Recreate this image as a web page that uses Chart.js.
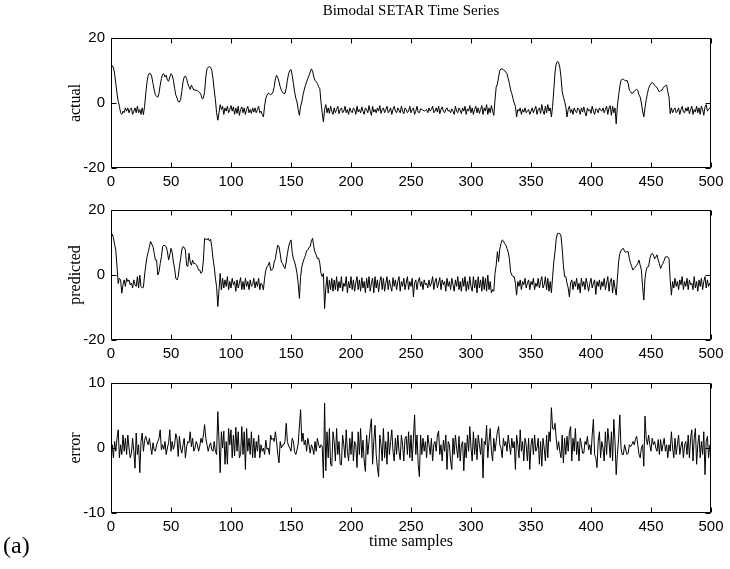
<!DOCTYPE html>
<html>
<head>
<meta charset="utf-8">
<script src="https://cdn.jsdelivr.net/npm/chart.js@4.4.1/dist/chart.umd.min.js"></script>
<style>
  html, body { margin: 0; padding: 0; background: #fff; }
  #wrap { position: relative; width: 730px; height: 569px; overflow: hidden; }
  canvas { position: absolute; left: 0; }
  .txt { position: absolute; font-family: "Liberation Serif", "Times New Roman", serif; color: #000; white-space: nowrap; }
  .ylab { transform: translate(-50%, -50%) rotate(-90deg); font-size: 16px; }
</style>
</head>
<body>
<div id="wrap">
  <canvas id="c1" width="730" height="193" style="top:0px"></canvas>
  <canvas id="c2" width="730" height="193" style="top:172px"></canvas>
  <canvas id="c3" width="730" height="193" style="top:345px"></canvas>
  <div class="txt" style="left:411px; top:10px; transform:translate(-50%,-50%); font-size:15px;">Bimodal SETAR Time Series</div>
  <div class="txt ylab" style="left:75px; top:103px;">actual</div>
  <div class="txt ylab" style="left:75px; top:275px;">predicted</div>
  <div class="txt ylab" style="left:75px; top:448px;">error</div>
  <div class="txt" style="left:411px; top:541px; transform:translate(-50%,-50%); font-size:16px;">time samples</div>
  <div class="txt" style="left:3px; top:545px; transform:translate(0,-50%); font-size:24px;">(a)</div>
</div>
<script>
// ---- data ----
const xTicks = [0, 50, 100, 150, 200, 250, 300, 350, 400, 450, 500];
const yTicksSeries = [-20, 0, 20];
const yTicksError = [-10, 0, 10];

const actual = [
  10, 11.5, 11, 9, 6, 3, 0.5, -1, -3, -3.5,
  -2.5, -3, -1.5, -2.5, -1.5, -3, -2, -1.5, -3.5, -2.5,
  -1.5, -3, -1, -3, -2, -3.5, -1.5, -3.6, -1, 3,
  6.5, 8.5, 9.2, 9, 8, 6, 4, 2.5, 2, 1.8,
  3, 5.5, 7.5, 8.8, 9, 8, 8.5, 7, 6.7, 8,
  9, 8.5, 7, 4.5, 2.5, 1.5, 0.5, 0.3, 1, 3.5,
  6.5, 8, 8.3, 7.5, 6, 5, 4.2, 5.5, 4.8, 4,
  4, 3.9, 3.8, 3.5, 3.2, 2.5, 1.3, 1.5, 3.5, 8,
  10.5, 11, 11.2, 11, 10, 7.5, 4, 1, -3, -5.3,
  -3, -0.5, -2, -1, -3.5, -1.5, -2.5, -1, -3, -2,
  -0.8, -2.5, -1.2, -3.5, -1.5, -3.2, -1, -3.8, -2, -1.2,
  -3, -1.5, -3.5, -2, -1, -3, -2, -3.2, -1.5, -2.8,
  -1.5, -3, -2, -1, -3, -2.5, -3.5, -4.3, -1, 1.5,
  2.4, 3, 2.9, 2.5, 2.8, 3.4, 5, 7.5, 8.5, 7.8,
  6.5, 5, 3.9, 3.2, 3, 2.9, 4.5, 7, 9, 10,
  10.3, 8.5, 6, 3.4, 1.5, 0.3, -2, -3.8, -1, 0.3,
  2.5, 4, 5.4, 6.5, 7.5, 8.5, 9.5, 10.5, 9.8, 8,
  7, 6.5, 6, 5, 4.4, 0.3, -3, -5.8, -2, -0.5,
  -3, -1.5, -3.2, -1, -2.5, -3.5, -1.5, -3, -2, -1,
  -3.3, -2, -1.5, -3, -2.5, -1, -3, -2, -3.5, -1.5,
  -2.5, -3, -1.5, -2, -3.5, -1, -2.8, -2, -3, -1.2,
  -2.5, -3.5, -1.5, -2, -3, -0.8, -2.5, -3.8, -1, -2.8,
  -2, -3, -1.5, -2.5, -0.8, -3.2, -2, -1.5, -3, -2,
  -1, -3, -2.5, -1.5, -3.5, -2, -1, -2.5, -3, -1.5,
  -2.2, -3, -1, -2.5, -3.3, -1.5, -2, -3, -2.5, -1,
  -3, -2, -1.5, -3.5, -2.5, -1, -2.8, -3, -1.8, -2,
  -2.2, -2.5, -2.3, -2, -3, -1.5, -2.5, -2, -1, -3,
  -2.5, -1.5, -2.8, -1, -3.3, -2, -1.2, -2.5, -3, -2,
  -1.5, -2.5, -2.2, -3, -1.8, -2.5, -3.5, -1, -2.5, -3,
  -1.5, -2.2, -3.3, -1.5, -2.5, -1, -3.5, -1.8, -2.5, -0.8,
  -3, -1.5, -3.5, -2, -1, -3, -1.5, -3.2, -2, -0.8,
  -3.5, -1.5, -2.5, -0.5, -3.5, -1.5, -3, -0.8, -2.5, -3.8,
  1, 4.9, 5.8, 8, 10, 10.5, 10.5, 10.2, 10, 9.5,
  9, 7.5, 6, 4, 2.9, 1.3, 0, -1, -4.3, -2,
  -2.5, -1.5, -3.5, -2, -2.8, -1.5, -3, -2.5, -2, -3.5,
  -2.5, -1.5, -3, -2, -1, -3.5, -2, -1.5, -3.2, -0.5,
  -2.5, -3.5, -1, -3, -0.5, -2.5, -1.5, -4.3, -1, 4,
  9.5, 12, 12.8, 12.5, 11, 8, 3.4, 1.8, 0.5, -1.2,
  -4.3, -2, -1, -3, -2, -3.5, -1.5, -2.5, -3, -1.5,
  -2, -3.5, -1.5, -2.8, -1.2, -3, -4, -1.5, -2.5, -2,
  -3.2, -1, -2.5, -3.5, -1.8, -2, -3, -1.5, -2.2, -2.5,
  -1.5, -3, -2, -1, -3.5, -1.5, -0.8, -3.8, -1, -3,
  -1.5, -6.4, -1, 2.4, 5, 7, 7.3, 7.3, 7, 6.8,
  7, 6, 3.9, 3.5, 2.9, 3.2, 3.5, 4, 4.2, 3.9,
  2.5, 1.8, 0, -2.5, -4.3, -1.5, 1, 2.9, 4.5, 5.4,
  6, 6.3, 6, 5.4, 5, 4.8, 4, 3.4, 3.8, 3.9,
  4.5, 5, 5.4, 5.5, 3.5, 1.8, -3.3, -1.5, -3, -2,
  -1.5, -3, -2.5, -1.5, -3.5, -2, -1, -2.8, -3, -1.5,
  -2.5, -1.2, -3.3, -2, -1, -3.5, -2, -2.8, -1, -3,
  -1.5, -3.5, -1, -2, -3.8, -1.2, -0.5, -2.5, -2, -1.5
];

const predicted = [
  11, 12.6, 11.5, 9.5, 7.5, 2.6, -2.6, -1, -1.5, -5.6,
  -3, -1.5, -3.5, -1, -2, -1.5, -3, -2.5, -4, -1.5,
  -3, -3.5, -0.5, -4, 0, -3.5, -4, -3.8, 0, 3,
  5.6, 7, 8.7, 10.3, 9.5, 8.7, 6.7, 4.6, 4.6, 0,
  1, 3.5, 5.6, 8.7, 9.2, 9, 8.7, 7.2, 4.6, 6.2,
  8.2, 7, 4, 2, -1, -1.5, -0.5, 2.5, 5, 7.7,
  8.7, 8.5, 7.7, 3, 2.6, 6.7, 4, 3, 4.6, 3.5,
  3.6, 3.2, 2.6, 1.5, 1.5, 0.5, 1, 4.6, 11.3, 11,
  10.8, 11.3, 10.5, 11, 8.7, 5, 2.6, -1, -3.6, -9.7,
  -4.6, 0.5, -4.6, -1, -4, -1.5, -3.5, -0.5, -4.5, -2,
  -4, -1, -3, -2, -5, -1.5, -4, -2.5, -0.8, -4.5,
  -2, -4.5, -1, -3.5, -2, -4.5, -1.5, -3.5, -3, -1,
  -4, -2, -3.5, -1, -4.5, -2.5, -3, -4.6, -1, 1.5,
  2.5, 3, 4, 1.5, 1.5, 2, 4, 5, 7.5, 9.2,
  8.7, 6.5, 4, 3.5, 2.6, 2, 4, 6.5, 8.7, 10,
  10.8, 7, 5, 4, 2.5, 0.5, -2.6, -7.2, -0.5, 2.5,
  4, 5, 6, 7.5, 7.7, 8.5, 8.7, 10.5, 11.3, 8.7,
  7, 6.2, 5, 5.2, 3.6, 0.5, -0.5, 0.5, -10.3, -4,
  -0.5, -5.6, -1.5, -4.5, -1, -5, -1.5, -4.5, -0.5, -5,
  -2, -4, -0.5, -5, -2.5, -3.5, -0.5, -5.5, -2, -4,
  -0.5, -4.5, -1.5, -5, -2.5, -0.5, -4.5, -1.5, -5, -0.8,
  -4, -2, -5.5, -1, -4, -0.5, -5, -2.5, -1, -5.5,
  -0.5, -4, -1.5, -5.2, -2, -0.5, -4.5, -1, -5, -2.5,
  -0.5, -4.5, -1.5, -3.5, -5, -0.8, -3.5, -1.5, -4.5, -2,
  -0.5, -5, -2, -3.5, -1, -4.5, -2.5, -0.5, -4.5, -2,
  -3.5, -1, -6.7, -2.5, -1.5, -4.5, -2, -0.8, -3.5, -2,
  -4.5, -1.5, -3, -2.5, -4, -1.5, -3.5, -2.5, -0.5, -4.5,
  -2, -1, -4, -2.5, -0.8, -4.5, -1.5, -3, -2, -5,
  -1, -3.5, -2, -4.5, -1, -3, -5, -1.5, -3.5, -0.5,
  -4.5, -2, -5, -1, -3.5, -0.5, -5, -2, -4.5, -0.5,
  -3.5, -5, -0.5, -4, -1.5, -5.5, -0.5, -4, -1.5, -5,
  -0.5, -4.5, -1, -5, 0, -4.5, -2, -5.5, -4.5, -5,
  0.5, 3, 7.2, 4.1, 8, 9.7, 10.8, 10.5, 9.7, 9.2,
  8.2, 7, 5, 1, 0, -0.5, -0.5, -2.5, -6.2, -2,
  -3.5, -1.5, -4.5, -2, -3, -1, -4, -2.5, -1.5, -4.5,
  -2, -3, -1, -4.5, -2.5, -3.5, -1, -4, -2, -0.5,
  -4, -3, -0.5, -4.5, -1, -5, -2, -5.5, -0.5, 4,
  7.2, 11, 12.8, 12.8, 12.8, 12, 8, 3, -0.5, -0.5,
  -2.5, -4, -6.7, -2.5, -1.5, -4.5, -2, -3.5, -1, -4.5,
  -2.5, -5.5, -1, -3.5, -2, -4.5, -1, -3, -5, -2.5,
  -1, -4, -2.5, -1.5, -6, -2, -3.5, -1.5, -4.5, -2,
  -3.5, -1, -4.5, -2.5, -0.5, -5, -2, -1, -5.5, -1.5,
  -4, -6.2, -1, 4.1, 6.5, 7.5, 8, 8.2, 7.2, 7,
  7.2, 7.2, 5, 3.6, 2.5, 1.5, 2, 2.5, 3, 3.6,
  4.6, 3, 1.5, -3.6, -7.7, -1, 1.5, 2.5, 2.6, 5,
  6.2, 6.7, 6.2, 5, 5.5, 6.2, 4.6, 3.5, 2, 3,
  3.6, 4.5, 5.6, 5.6, 5.6, 5, -1.5, -6.2, -2, -4,
  -1, -3.5, -2, -4.5, -1.5, -3, -0.5, -4.5, -2, -3.5,
  -1, -4.5, -1.5, -3, -2.5, -4.5, -0.5, -4, -2, -5,
  -1.5, -3.5, -1, -4.5, -2, -0.5, -4, -1.5, -3.5, -2.5
];

const error = [
  -1, 0.5, -1.5, 1, -0.5, 1.5, 2.8, -1.5, 0.5, -1,
  2, -0.5, 1.5, -1, 2, 0, -1.5, -0.8, 1.5, -0.5,
  -3.1, 2.3, -1, 0.5, -3.8, 1, 2.3, -0.5, 1.2, 1.8,
  1, 0.5, 1.5, 0.2, -1, 0.8, -0.3, -0.5, 0.5, 1,
  1.5, 2.8, -0.3, 0.5, -0.2, 1, -1, 0, 0.8, 2.8,
  -0.5, 1, -0.2, 0.5, 2.2, 1.5, -1.3, 1.8, 0, -0.8,
  0.5, 1.5, -1.5, 0.2, 1, 0.8, 2.5, 0.2, 1.5, -0.5,
  0, 1, 0.5, -0.5, 0.3, 1.5, 0.8, 2, 3.6, 1.5,
  0.5, -0.5, 0.3, 0.8, -0.3, -0.5, 1, -0.5, -1, 5.6,
  1.2, -3.8, 2.5, 0, 2.6, -2.5, 1, -2.5, 3, 0.5,
  2.8, -1.5, 2, -1.2, 3.2, -0.5, 2.5, -1.5, -1, 3.3,
  -1, 2.5, -3.3, 3, -0.5, 1.5, -1, 2.5, -1.5, 1.5,
  -1.5, 1, -0.5, 2, -1.5, 0.5, -0.5, 0, -1, 1.2,
  -0.2, 0, -1, 2, 1.3, 1.5, 1, 2.5, 1, -1,
  -2.3, 1, 0, 0.5, 0.5, 1, 3.8, 1, 0.3, 0,
  -0.5, 1.5, 1, -0.6, -1, -0.3, 0.6, 3.4, 5.9, 1,
  2.3, 0.5, 1.2, -0.5, 1.5, 0.5, -0.8, 0.5, 0, -1,
  1, -0.5, 1.5, 0.5, 0, 0.5, 0.3, -4.6, 6.9, -3.5,
  2.5, -1.5, 3, -2.5, -2.8, 2.5, 1, -2, 3, -1,
  1, -2.5, -2.6, 2, 0.5, -1.5, 2.8, -0.5, -2, 1.5,
  -1, 2.5, -2, 1, 0.5, -3, 2.5, -1, 3, -1.5,
  1.2, -2, -3.6, 2, -1, 1, 3, 4.5, -2.5, 1,
  3.5, -1, -3, -4.4, 2, 0.5, -2, 3, -1.5, 1,
  -2.5, 2.5, -1, 1, 2.8, -0.5, -2, 1.5, -1, 2,
  -0.5, -1.8, 2, 0.5, -2, 1.5, 1.8, -1, 2.5, -1.5,
  2, -2, 1.5, 5.1, -1, 2, -2.5, -4.4, 2, -1,
  1.5, -0.5, 1, -1.5, 2, 0.5, -1, 1.5, -2, 0.5,
  1, -0.5, 2, 2.6, -1, 0.5, -2, 1.2, -0.5, 2,
  -3.3, 1, 0.5, -2, -3.3, 1.5, -1, 2, 0, -1.5,
  1.8, -2, 0.5, 1, -3.5, 0.8, -1.5, 2, -0.5, 3.3,
  0, -2, 2.5, -1, 1.5, -1.8, 2, 0.5, -1, 1.5,
  -4.6, 1, 0.5, 3.5, -1.5, 1, 3, -0.5, -2, 1.5,
  -0.5, 1, 2.5, 3.3, 0.5, 0, -1.5, 1.5, 0.3, 1,
  -0.5, 2, 0.5, -1, 1.5, 0, 1, -3.3, 2, 0.5,
  -1.5, 2.8, -0.5, 1, -2, 1.5, 0.5, -2, 1.5, -3.3,
  0.5, 1.5, -1, 2, -0.5, 0, 1.5, -2.5, 1, -2.8,
  1.5, 0, -2, 2, -1.5, 2.5, 1, 6.2, 3, 2.8,
  3.8, 1.5, -0.3, 1, -0.5, -1.5, 2, -2.3, 1.5, -1,
  1.8, -0.5, 2.5, 3.3, -2, 1.5, -0.5, 3, -1, 1,
  -2, 1.5, 0.5, -0.8, -0.8, 1, 0.5, 1.8, -0.3, 0.5,
  -1, 2, 4.4, -1, -1.5, -3, 1, 2.5, -1.5, 1,
  0, -2, 2.5, -1, 3, 1, -1.5, 2.5, -2, 4.4,
  1, -4.1, -1, 1.5, 5.1, 0, -1, -1, 0.5, -0.3,
  -1, -0.8, 0.5, 0.2, 0.5, 1, 0.5, 1.3, 1.8, 0.5,
  -1, -1.5, 0, 0.5, -2.8, 4.9, 1.5, 0.5, 2, 0.5,
  -0.5, 1.5, 0.5, 1, 0, -0.5, 1.3, -1, 1.3, -0.5,
  0.5, 1.5, -0.5, 0.5, -1.5, 0.5, -0.5, 2.5, 0, -1.5,
  1.5, -1, 0.5, 2, -1, 0.3, 1, -1.5, 0.5, 1,
  -1, 2, -1.5, 1.5, 2.8, -2, 1.5, 3, -2.5, 0.5,
  2, -1.5, 1, -1, 2.5, -4.1, 1, 1.8, -1.5, 0.5
];

// ---- drawing ----
const FONT = { family: '"Liberation Sans", Arial, Helvetica, sans-serif', size: 15 };

const framePlugin = {
  id: 'frame',
  afterDatasetsDraw(chart) {
    const { ctx, chartArea: a, scales } = chart;
    const L = 5;
    ctx.save();
    ctx.strokeStyle = '#000';
    ctx.lineWidth = 1;
    const l = Math.round(a.left) + 0.5, r = Math.round(a.right) - 0.5;
    const t = Math.round(a.top) + 0.5, b = Math.round(a.bottom) - 0.5;
    ctx.beginPath();
    ctx.rect(l, t, r - l, b - t);
    scales.x.ticks.forEach(tk => {
      const px = Math.round(scales.x.getPixelForValue(tk.value)) + 0.5;
      ctx.moveTo(px, b); ctx.lineTo(px, b - L);
      ctx.moveTo(px, t); ctx.lineTo(px, t + L);
    });
    scales.y.ticks.forEach(tk => {
      const py = Math.round(scales.y.getPixelForValue(tk.value)) + 0.5;
      ctx.moveTo(l, py); ctx.lineTo(l + L, py);
      ctx.moveTo(r, py); ctx.lineTo(r - L, py);
    });
    ctx.stroke();
    ctx.restore();
  }
};

function makeChart(id, values, yTicks) {
  const pts = values.map((v, i) => ({ x: i, y: v }));
  const yMin = yTicks[0], yMax = yTicks[yTicks.length - 1];
  return new Chart(document.getElementById(id), {
    type: 'line',
    data: { datasets: [{ data: pts, borderColor: '#000', borderWidth: 1, pointRadius: 0, tension: 0, fill: false }] },
    options: {
      responsive: false,
      animation: false,
      events: [],
      layout: { padding: { left: 0, right: 19, top: 38, bottom: 0 } },
      plugins: { legend: { display: false }, tooltip: { enabled: false }, title: { display: false } },
      scales: {
        x: {
          type: 'linear', min: 0, max: 500,
          afterBuildTicks: s => { s.ticks = xTicks.map(v => ({ value: v })); },
          afterFit: s => { s.height = 25; },
          grid: { display: false, drawTicks: false },
          border: { display: false },
          ticks: { color: '#000', font: FONT, padding: 5, maxRotation: 0, autoSkip: false }
        },
        y: {
          type: 'linear', min: yMin, max: yMax,
          afterBuildTicks: s => { s.ticks = yTicks.map(v => ({ value: v })); },
          afterFit: s => { s.width = 111; },
          grid: { display: false, drawTicks: false },
          border: { display: false },
          ticks: { color: '#000', font: FONT, padding: 6 }
        }
      }
    },
    plugins: [framePlugin]
  });
}

makeChart('c1', actual, yTicksSeries);
makeChart('c2', predicted, yTicksSeries);
makeChart('c3', error, yTicksError);
</script>
</body>
</html>
